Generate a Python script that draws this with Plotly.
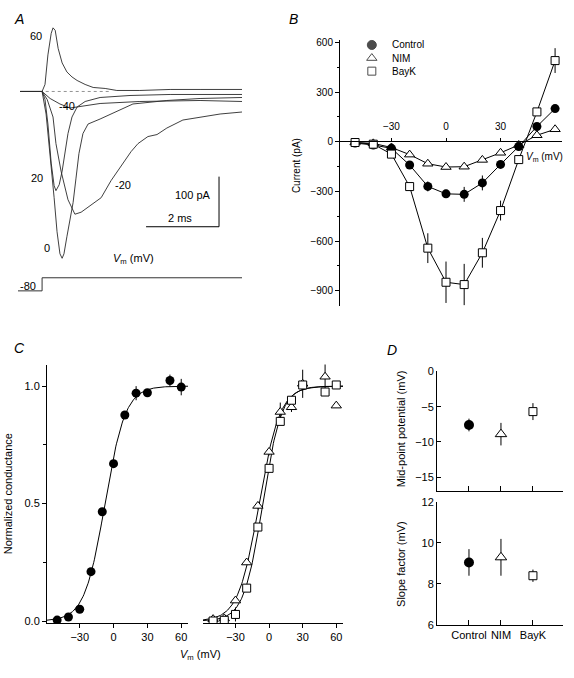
import numpy as np
import plotly.graph_objects as go

W, H = 574, 678
FONT = "Liberation Sans, Arial, sans-serif"

# ---------------- Panel A: current traces (time in ms, current in pA) ----------------
t_p60 = [-0.60, 0, 0.08, 0.16, 0.25, 0.30, 0.36, 0.44, 0.55, 0.68, 0.82, 0.96, 1.18, 1.40, 1.73, 2.05, 2.68, 3.51, 4.33, 5.48]
i_p60 = [0, 0, 14, 73, 116, 127, 122, 86, 57, 39, 29, 22, 14, 8, 6, 2, 2, 4, 4, 4]

t_p20 = [-0.60, 0, 0.08, 0.16, 0.25, 0.33, 0.38, 0.47, 0.55, 0.63, 0.71, 0.82, 0.96, 1.18, 1.59, 2.41, 3.51, 5.48]
i_p20 = [0, 0, -16, -65, -143, -188, -198, -186, -159, -124, -84, -51, -31, -20, -12, -8, -6, -6]

t_0 = [-0.60, 0, 0.11, 0.22, 0.33, 0.41, 0.49, 0.55, 0.60, 0.68, 0.77, 0.85, 0.93, 1.01, 1.12, 1.26, 1.59, 2.05, 2.49, 3.42, 4.33, 5.48]
i_0 = [0, 0, -45, -124, -212, -280, -324, -333, -324, -290, -257, -222, -173, -124, -84, -65, -55, -39, -25, -18, -14, -12]

t_m20 = [-0.60, 0, 0.14, 0.30, 0.38, 0.52, 0.71, 0.90, 1.07, 1.34, 1.62, 1.89, 2.16, 2.44, 2.63, 2.90, 3.15, 3.42, 3.86, 4.33, 4.88, 5.48]
i_m20 = [0, 0, -16, -51, -104, -159, -216, -245, -241, -227, -212, -178, -149, -120, -104, -90, -86, -73, -57, -51, -45, -41]

t_m40 = [-0.60, 0, 0.22, 0.49, 0.77, 1.18, 1.59, 2.68, 4.33, 5.48]
i_m40 = [0, 0, -14, -25, -33, -29, -24, -20, -18, -20]

base_t = [0.1, 1.9]
base_i = [0, 0]

bar_t = [2.85, 4.85, 4.85]     # 2 ms
bar_i = [-270, -270, -170]     # 100 pA

step_t = [-0.66, 0, 0, 5.48]
step_v = [-80, -80, 0, 0]

# ---------------- Panel B: I-V relations ----------------
iv_v = [-50, -40, -30, -20, -10, 0, 10, 20, 30, 40, 50, 60]
iv_control = [-8, -20, -40, -141, -270, -315, -318, -249, -137, -29, 92, 200]
iv_control_err = [0, 0, 0, 0, 30, 25, 45, 45, 15, 0, 0, 0]
iv_nim = [-5, -10, -35, -78, -133, -153, -151, -110, -67, -20, 39, 75]
iv_nim_err = [0, 0, 0, 0, 0, 0, 0, 0, 0, 0, 0, 0]
iv_bayk = [-5, -15, -75, -271, -643, -849, -863, -671, -416, -108, 180, 490]
iv_bayk_err = [0, 0, 0, 15, 90, 125, 125, 90, 60, 0, 15, 75]

# ---------------- Panel C: normalized conductance ----------------
gc_v = [-50, -40, -30, -20, -10, 0, 10, 20, 30, 50, 60]
gc_control = [0.004, 0.017, 0.05, 0.21, 0.465, 0.67, 0.877, 0.97, 0.972, 1.024, 0.996]
gc_control_err = [0, 0, 0, 0, 0, 0.015, 0.015, 0.03, 0.01, 0.025, 0.035]

gn_v = [-50, -40, -30, -20, -10, 0, 10, 20, 30, 50, 60]
gn_nim = [0.008, 0.011, 0.087, 0.249, 0.49, 0.72, 0.89, 0.91, 1.01, 1.04, 0.917]
gn_nim_err = [0, 0, 0, 0, 0.015, 0.015, 0.04, 0.02, 0.06, 0.055, 0]
gn_bayk = [0.0, 0.003, 0.028, 0.14, 0.40, 0.65, 0.85, 0.94, 1.005, 0.975, 1.005]
gn_bayk_err = [0, 0, 0.03, 0, 0, 0, 0, 0, 0, 0, 0]

# ---------------- Panel D: Boltzmann parameters ----------------
groups = ["Control", "NIM", "BayK"]
midpoint = [-7.6, -8.9, -5.7]
midpoint_err = [0.9, 1.6, 1.2]
slope = [9.05, 9.3, 8.4]
slope_err = [0.65, 0.9, 0.3]

# Boltzmann fit curves derived from panel D parameters
v_fit = np.linspace(-59, 66, 200)
def boltz(vh, k):
    return 1.0 / (1.0 + np.exp(-(v_fit - vh) / k))

# ---------------- helpers ----------------
def xd(a, b):
    return [a / W, b / W]

def yd(top, bottom):
    return [1 - bottom / H, 1 - top / H]

def px(x):
    return x / W

def py(y):
    return 1 - y / H

fig = go.Figure()
trace_line = dict(color="#2a2a2a", width=0.9)
for tt, ii in [(t_m40, i_m40), (t_p60, i_p60), (t_p20, i_p20), (t_0, i_0), (t_m20, i_m20)]:
    fig.add_trace(go.Scatter(x=tt, y=ii, mode="lines", line=trace_line, xaxis="x", yaxis="y",
                             showlegend=False, hoverinfo="skip"))
fig.add_trace(go.Scatter(x=base_t, y=base_i, mode="lines", line=dict(color="#777", width=0.8, dash="dot"),
                         xaxis="x", yaxis="y", showlegend=False, hoverinfo="skip"))
fig.add_trace(go.Scatter(x=bar_t, y=bar_i, mode="lines", line=dict(color="black", width=1),
                         xaxis="x", yaxis="y", showlegend=False, hoverinfo="skip"))
fig.add_trace(go.Scatter(x=step_t, y=step_v, mode="lines", line=dict(color="#333", width=1),
                         xaxis="x2", yaxis="y2", showlegend=False, hoverinfo="skip"))

# Panel B
def err(a):
    return dict(type="data", array=a, width=0, thickness=1, color="black")

circle = dict(symbol="circle", size=9, color="black", line=dict(color="black", width=0))
tri = dict(symbol="triangle-up", size=9, color="white", line=dict(color="black", width=1))
sq = dict(symbol="square", size=8, color="white", line=dict(color="black", width=1))

for yv, ev, mk in [(iv_nim, iv_nim_err, tri), (iv_control, iv_control_err, circle), (iv_bayk, iv_bayk_err, sq)]:
    fig.add_trace(go.Scatter(x=iv_v, y=yv, error_y=err(ev), mode="lines+markers",
                             line=dict(color="black", width=1), marker=mk,
                             xaxis="x3", yaxis="y3", showlegend=False, hoverinfo="skip"))

# Legend key for panel B (one marker per group, on its own small category axis)
fig.add_trace(go.Scatter(x=[0, 0, 0], y=groups, mode="markers",
                         marker=dict(symbol=["circle", "triangle-up", "square"], size=[9, 9, 8],
                                     color=["black", "white", "white"],
                                     line=dict(color="black", width=1)),
                         xaxis="x8", yaxis="y8", showlegend=False, hoverinfo="skip"))

# Panel C
fig.add_trace(go.Scatter(x=v_fit, y=boltz(midpoint[0], slope[0]), mode="lines",
                         line=dict(color="black", width=1), xaxis="x4", yaxis="y4",
                         showlegend=False, hoverinfo="skip"))
fig.add_trace(go.Scatter(x=gc_v, y=gc_control, error_y=err(gc_control_err), mode="markers", marker=circle,
                         xaxis="x4", yaxis="y4", showlegend=False, hoverinfo="skip"))
for i in (1, 2):
    fig.add_trace(go.Scatter(x=v_fit, y=boltz(midpoint[i], slope[i]), mode="lines",
                             line=dict(color="black", width=1), xaxis="x5", yaxis="y5",
                             showlegend=False, hoverinfo="skip"))
fig.add_trace(go.Scatter(x=gn_v, y=gn_nim, error_y=err(gn_nim_err), mode="markers", marker=tri,
                         xaxis="x5", yaxis="y5", showlegend=False, hoverinfo="skip"))
fig.add_trace(go.Scatter(x=gn_v, y=gn_bayk, error_y=err(gn_bayk_err), mode="markers", marker=sq,
                         xaxis="x5", yaxis="y5", showlegend=False, hoverinfo="skip"))

# Panel D
mk_d = [dict(circle, size=10), dict(tri, size=10), dict(sq, size=8)]
for i in range(3):
    fig.add_trace(go.Scatter(x=[i], y=[midpoint[i]], error_y=err([midpoint_err[i]]), mode="markers",
                             marker=mk_d[i], xaxis="x6", yaxis="y6", showlegend=False, hoverinfo="skip"))
    fig.add_trace(go.Scatter(x=[i], y=[slope[i]], error_y=err([slope_err[i]]), mode="markers",
                             marker=mk_d[i], xaxis="x7", yaxis="y7", showlegend=False, hoverinfo="skip"))

hidden = dict(visible=False, showgrid=False, zeroline=False)
ax_common = dict(showgrid=False, zeroline=False, showline=True, linecolor="black", linewidth=1,
                 tickcolor="black", tickwidth=1, ticklen=4)
tf11 = dict(family=FONT, size=11, color="black")
tf10 = dict(family=FONT, size=10, color="black")

fig.update_layout(
    width=W, height=H, margin=dict(l=0, r=0, t=0, b=0),
    paper_bgcolor="white", plot_bgcolor="rgba(0,0,0,0)", showlegend=False,
    font=dict(family=FONT, size=11, color="black"),
    xaxis=dict(hidden, domain=xd(18, 242), range=[-0.66, 5.48]),
    yaxis=dict(hidden, domain=yd(15, 270), range=[-358.8, 141.2]),
    xaxis2=dict(hidden, domain=xd(18, 242), range=[-0.66, 5.48], anchor="y2"),
    yaxis2=dict(hidden, domain=yd(272, 294), range=[-104, 28], anchor="x2"),
    xaxis3=dict(ax_common, domain=xd(340, 562), range=[-58.3, 63.8], anchor="free",
                position=py(137), side="top", tickvals=[-30, 0, 30], ticks="outside", ticklen=3,
                ticklabelstandoff=4, tickfont=tf10),
    yaxis3=dict(ax_common, domain=yd(35, 305), range=[-990, 612], anchor="x3",
                tickvals=[600, 300, 0, -300, -600, -900], ticks="outside", tickfont=tf10,
                minor=dict(tickvals=[450, 150, -150, -450, -750], ticks="outside", ticklen=2,
                           tickcolor="black")),
    xaxis8=dict(hidden, domain=xd(366, 430), range=[-1, 10], anchor="y8"),
    yaxis8=dict(hidden, domain=yd(33, 73), type="category", categoryarray=groups,
                range=[2.5, -0.5], anchor="x8"),
    xaxis4=dict(ax_common, domain=xd(47, 188), range=[-59, 66], anchor="y4",
                tickvals=[-30, 0, 30, 60], ticks="outside", tickfont=tf11),
    yaxis4=dict(ax_common, domain=yd(365, 628), range=[-0.008, 1.092], anchor="x4",
                tickvals=[0, 0.5, 1.0], ticktext=["0.0", "0.5", "1.0"], ticks="outside", tickfont=tf11,
                minor=dict(tickvals=[0.25, 0.75], ticks="outside", ticklen=3, tickcolor="black")),
    xaxis5=dict(ax_common, domain=xd(203, 343), range=[-59, 66], anchor="y5",
                tickvals=[-30, 0, 30, 60], ticks="outside", tickfont=tf11),
    yaxis5=dict(hidden, domain=yd(365, 628), range=[-0.008, 1.092], anchor="x5"),
    xaxis6=dict(ax_common, domain=xd(437, 563), range=[-1, 2.94], anchor="y6",
                tickvals=[0, 1, 2], showticklabels=False, ticks="inside", ticklen=5),
    yaxis6=dict(ax_common, domain=yd(372, 494), range=[-17, 0], anchor="x6",
                tickvals=[0, -5, -10, -15], ticks="inside", tickfont=tf11),
    xaxis7=dict(ax_common, domain=xd(437, 563), range=[-1, 2.94], anchor="y7",
                tickvals=[0, 1, 2], ticktext=groups, ticks="inside", ticklen=5, tickfont=tf11),
    yaxis7=dict(ax_common, domain=yd(505, 630), range=[6, 12], anchor="x7",
                tickvals=[6, 8, 10, 12], ticks="inside", tickfont=tf11),
)

ann = []
def note(text, x, y, size=11, xanchor="center", yanchor="middle", angle=0, xref="paper", yref="paper"):
    ann.append(dict(text=text, x=px(x) if xref == "paper" else x, y=py(y) if yref == "paper" else y,
                    xref=xref, yref=yref, showarrow=False,
                    xanchor=xanchor, yanchor=yanchor, textangle=angle,
                    font=dict(family=FONT, size=size, color="black")))

# panel letters
note("<i>A</i>", 12, 13, size=14, xanchor="left")
note("<i>B</i>", 287, 13, size=14, xanchor="left")
note("<i>C</i>", 12, 348, size=14, xanchor="left")
note("<i>D</i>", 385, 350, size=14, xanchor="left")
# panel A labels
note("60", 44, 31, xanchor="right")
note("-40", 57, 102, xanchor="left")
note("20", 45, 175, xanchor="right")
note("-20", 113, 182, xanchor="left")
note("0", 52, 246, xanchor="right")
note("100 pA", 213, 192, xanchor="right")
note("2 ms", 180, 216)
note("<i>V</i><sub>m</sub> (mV)", 133, 258)
note("-80", 18, 285, xanchor="left")
# panel B
for g in groups:
    note(g, 390, g, size=10, xanchor="left", yref="y8")
note("<i>V</i><sub>m</sub> (mV)", 524, 154, size=10, xanchor="left")
note("Current (pA)", 296, 163, size=10, angle=-90)
# panel C
note("Normalized conductance", 8, 497, angle=-90)
note("<i>V</i><sub>m</sub> (mV)", 200, 661)
# panel D
note("Mid-point potential (mV)", 401, 431, angle=-90)
note("Slope factor (mV)", 401, 568, angle=-90)
fig.update_layout(annotations=ann)

fig.write_html("out.html", config={"displayModeBar": False},
               post_script="document.body.style.margin='0px';")
